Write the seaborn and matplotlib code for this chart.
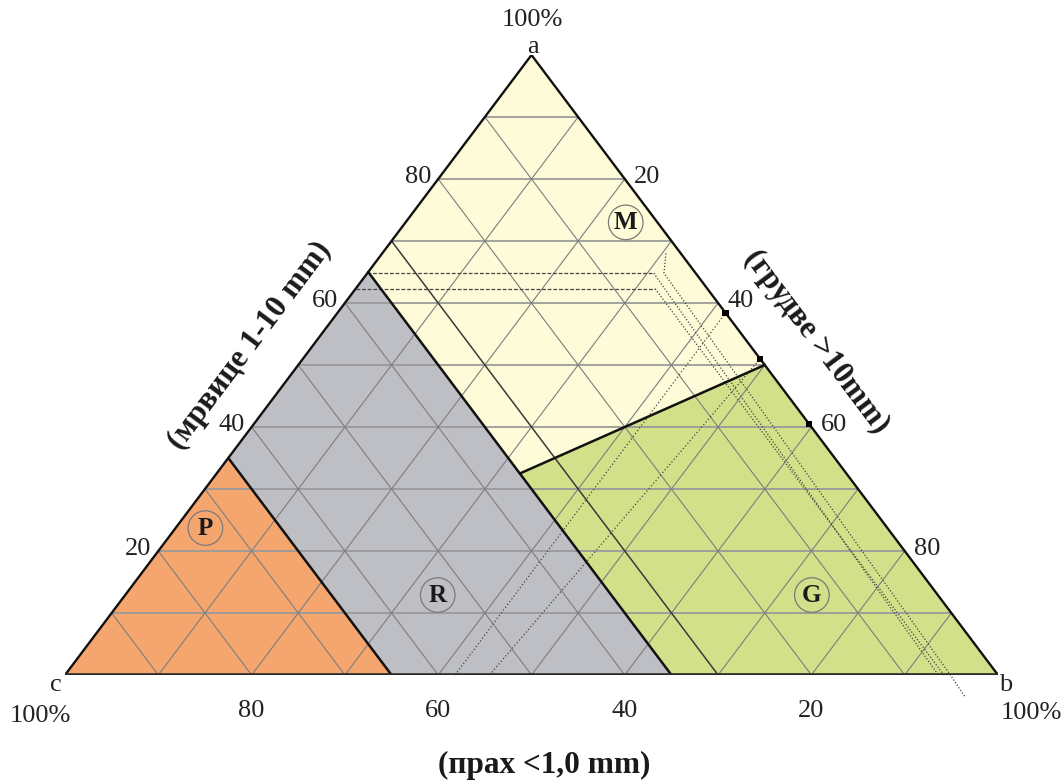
import numpy as np
import pandas as pd
import matplotlib
matplotlib.use("Agg")
import matplotlib.pyplot as plt
import seaborn as sns

# ---------------- data (ternary: prah <1 mm, mrvice 1-10 mm, grudve >10 mm, in %) ----------------
tick_values = [20, 40, 60, 80]
grid_values = [10, 20, 30, 40, 50, 60, 70, 80, 90]
dark_prah_line = 30

zone_names = ["P", "R", "M", "G"]
zone_P = [(100, 0, 0), (65, 35, 0), (65, 0, 35)]
zone_R = [(65, 35, 0), (35, 65, 0), (35, 0, 65), (65, 0, 35)]
zone_M = [(35, 65, 0), (0, 100, 0), (0, 50, 50), (35, 32.5, 32.5)]
zone_G = [(35, 32.5, 32.5), (0, 50, 50), (0, 0, 100), (35, 0, 65)]
zone_colors = ["#F5A66E", "#BEBFC4", "#FEFBD8", "#D2E189"]

boundary_P = [(65, 35, 0), (65, 0, 35)]
boundary_R = [(35, 65, 0), (35, 0, 65)]
boundary_MG = [(35, 32.5, 32.5), (0, 50, 50)]

label_pos = {"M": (3.4, 73.0, 23.6), "P": (73.1, 23.7, 3.2),
             "R": (53.6, 12.9, 33.5), "G": (13.5, 12.9, 73.6)}

marker_grudve = [41.6, 49.0, 59.5]

# dashed / dotted helper lines (prah, mrvice) pairs
dashed_h1 = [(35.2, 64.8), (4.5, 64.8)]
dashed_h2 = [(37.7, 62.3), (5.6, 62.3)]
dotted_1 = [(4.5, 64.8), (6.4, 0)]
dotted_2 = [(5.6, 62.3), (5.8, 0)]
dotted_3 = [(1.6, 68.0), (3.4, 64.8), (5.1, 0), (5.3, -3.5)]
dotted_4 = [(58.2, 0), (0, 58.4)]
dotted_5 = [(54.5, 0), (0, 51.0)]

title_left = "(мрвице 1-10 mm)"
title_right = "(грудве >10mm)"
title_bottom = "(прах <1,0 mm)"


def cart(p, m, g=None):
    if g is None:
        g = 100 - p - m
    return (g + m / 2) / 100.0, m / 100.0


sns.set_theme(style="white")
plt.rcParams["font.family"] = ["Liberation Serif", "DejaVu Serif"]

fig = plt.figure(figsize=(10.64, 7.82), dpi=100)
fig.patch.set_facecolor("white")
ax = fig.add_axes([65 / 1064, 107 / 782, 933 / 1064, 620 / 782])
ax.set_xlim(0, 1)
ax.set_ylim(0, 1)
ax.axis("off")

# zones
for pts, col in zip([zone_P, zone_R, zone_M, zone_G], zone_colors):
    xy = np.array([cart(*t) for t in pts])
    ax.fill(xy[:, 0], xy[:, 1], color=col, lw=0, zorder=1)

# grid
rows_h, rows_d = [], []
for v in grid_values:
    for seg_id, (a, b, tgt) in enumerate([
        ((100 - v, v, 0), (0, v, 100 - v), rows_h),
        ((v, 100 - v, 0), (v, 0, 100 - v), rows_d),
        ((100 - v, 0, v), (0, 100 - v, v), rows_d)]):
        if seg_id == 1 and v == dark_prah_line:
            continue
        for t in (a, b):
            x, y = cart(*t)
            tgt.append({"x": x, "y": y, "seg": f"{v}-{seg_id}"})
df_h = pd.DataFrame(rows_h)
df_d = pd.DataFrame(rows_d)
sns.lineplot(data=df_h, x="x", y="y", units="seg", estimator=None, sort=False,
             color="#9a9a9a", lw=1.3, ax=ax, legend=False, zorder=2)
sns.lineplot(data=df_d, x="x", y="y", units="seg", estimator=None, sort=False,
             color="#7d7d7d", lw=0.8, ax=ax, legend=False, zorder=2)
xy = np.array([cart(dark_prah_line, 100 - dark_prah_line, 0), cart(dark_prah_line, 0, 100 - dark_prah_line)])
ax.plot(xy[:, 0], xy[:, 1], color="#3a3a3a", lw=1.1, zorder=3)
ax.set_xlabel("")
ax.set_ylabel("")

# helper dashed / dotted lines
for pts, ls in [(dashed_h1, (0, (3, 1.5))), (dashed_h2, (0, (3, 1.5))),
                (dotted_1, (0, (1, 1.5))), (dotted_2, (0, (1, 1.5))),
                (dotted_3, (0, (1, 1.5))), (dotted_4, (0, (1, 1.8))),
                (dotted_5, (0, (1, 1.8)))]:
    xy = np.array([cart(p, m) for p, m in pts])
    ax.plot(xy[:, 0], xy[:, 1], color="#444444", lw=0.9, ls=ls, zorder=3, clip_on=False)

# zone boundaries
for pts in [boundary_P, boundary_R, boundary_MG]:
    xy = np.array([cart(*t) for t in pts])
    ax.plot(xy[:, 0], xy[:, 1], color="#111111", lw=1.8, zorder=4, solid_capstyle="round")

# triangle edges
A, B, C = cart(0, 100, 0), cart(0, 0, 100), cart(100, 0, 0)
ax.plot([C[0], A[0], B[0]], [C[1], A[1], B[1]], color="#111111", lw=1.7, zorder=5,
        solid_joinstyle="miter")
ax.plot([C[0], B[0]], [C[1], B[1]], color="#2a2a2a", lw=2.6, zorder=5)

# markers on right edge
mk = pd.DataFrame([dict(zip(["x", "y"], cart(0, 100 - g, g))) for g in marker_grudve])
sns.scatterplot(data=mk, x="x", y="y", marker="s", s=22, color="black", edgecolor="none",
                ax=ax, zorder=6, legend=False, clip_on=False)
ax.set_xlabel("")
ax.set_ylabel("")

tick_fs = 19
# tick labels
for v in tick_values:
    ax.annotate(str(v), cart(100 - v, v, 0), xytext=(-7, 2), textcoords="offset pixels",
                ha="right", va="center", fontsize=tick_fs, color="#222222")
    ax.annotate(str(v), cart(0, 100 - v, v), xytext=(9, 2), textcoords="offset pixels",
                ha="left", va="center", fontsize=tick_fs, color="#222222")
    ax.annotate(str(v), cart(v, 0, 100 - v), xytext=(0, -36), textcoords="offset pixels",
                ha="center", va="center", fontsize=tick_fs, color="#222222")

# vertex labels
for txt, pt, off in [("a", A, (1, 8)), ("100%", A, (1, 35)),
                     ("c", C, (-9, -10)), ("100%", C, (-25, -41)),
                     ("b", B, (8, -10)), ("100%", B, (33, -38))]:
    ax.annotate(txt, pt, xytext=off, textcoords="offset pixels", ha="center", va="center",
                fontsize=tick_fs, color="#222222", annotation_clip=False)

# zone labels with circles
for name in zone_names:
    pt = cart(*label_pos[name])
    ax.scatter([pt[0]], [pt[1]], s=620, facecolors="none", edgecolors="#7a7a7a",
               linewidths=0.9, zorder=7)
    ax.annotate(name, pt, xytext=(0, 0), textcoords="offset pixels", ha="center",
                va="center", fontsize=18, fontweight="bold", color="#1a1a1a", zorder=8)

# axis titles
title_fs = 22.5
ax.annotate(title_left, cart(51.7, 48.3, 0), xytext=(-40, 30), textcoords="offset pixels",
            ha="center", va="center", rotation=53.1, rotation_mode="anchor",
            fontsize=title_fs, fontweight="bold", color="#1a1a1a")
ax.annotate(title_right, cart(0, 48.4, 51.6), xytext=(44, 33), textcoords="offset pixels",
            ha="center", va="center", rotation=-53.0, rotation_mode="anchor",
            fontsize=title_fs, fontweight="bold", color="#1a1a1a")
ax.annotate(title_bottom, cart(48.6, 0, 51.4), xytext=(0, -90), textcoords="offset pixels",
            ha="center", va="center", fontsize=title_fs, fontweight="bold", color="#1a1a1a",
            annotation_clip=False)

fig.savefig("out.png", dpi=100, facecolor="white")
